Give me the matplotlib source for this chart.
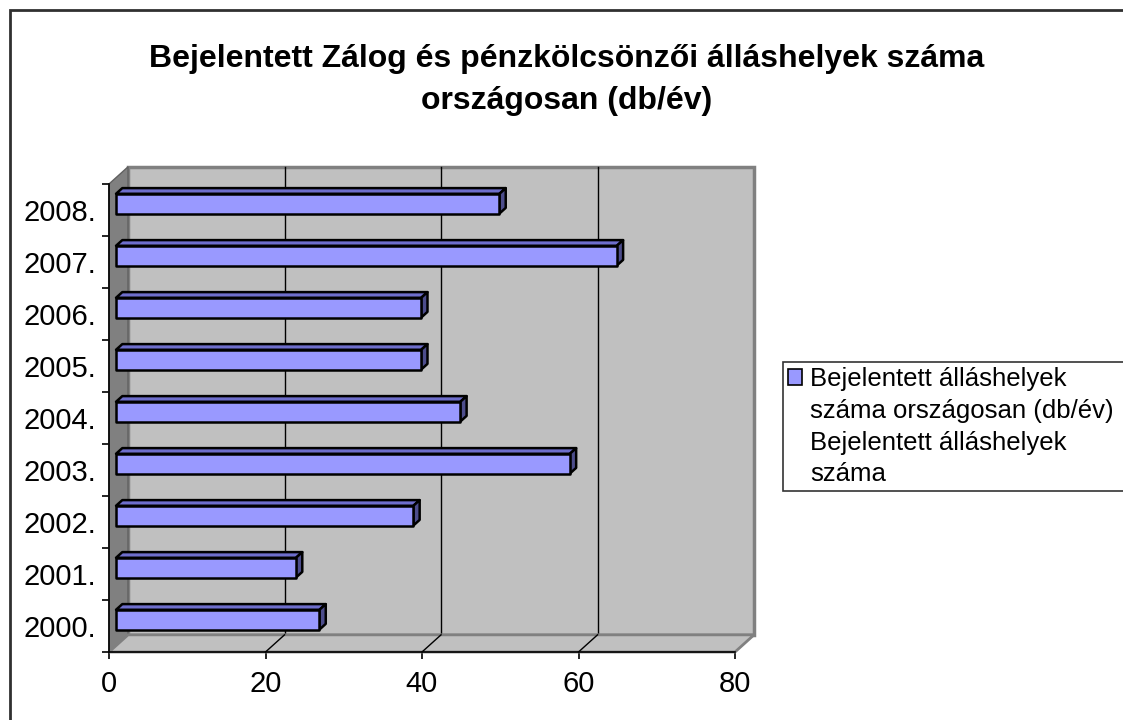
import matplotlib.pyplot as plt
from matplotlib.patches import Polygon, Rectangle, Patch

plt.rcParams['font.family'] = ['Liberation Sans', 'DejaVu Sans']

years = ['2000.', '2001.', '2002.', '2003.', '2004.', '2005.', '2006.', '2007.', '2008.']
values = [26, 23, 38, 58, 44, 39, 39, 64, 49]
x_ticks = [0, 20, 40, 60, 80]
title = 'Bejelentett Zálog és pénzkölcsönzői álláshelyek száma\nországosan (db/év)'
legend_lines = ['Bejelentett álláshelyek', 'száma országosan (db/év)',
                'Bejelentett álláshelyek', 'száma']

# 3d look: depth offset of the back wall, in data units
XMAX = 80
DX, DY = 2.43, 0.33
D0, D1 = 0.37, 0.70      # bar front/back depth fraction
H = 0.19                 # half bar thickness

face = '#9999FF'
top_c = '#6E6ECC'
side_c = '#4D4D8C'
wall = '#C0C0C0'
dark = '#808080'

fig = plt.figure(figsize=(11.23, 7.2), dpi=100)
W, Hh = 1123, 720
ax = fig.add_axes([109 / W, 1 - 652 / Hh, (735 - 109) / W, (652 - 184) / Hh])
n = len(years)
ax.set_xlim(0, XMAX)
ax.set_ylim(-0.5, n - 0.5)
ax.patch.set_visible(False)
for s in ['top', 'right']:
    ax.spines[s].set_visible(False)
for s in ['left', 'bottom']:
    ax.spines[s].set_color('black')
    ax.spines[s].set_linewidth(1.2)
    ax.spines[s].set_zorder(6)

y0, y1 = -0.5, n - 0.5
# back wall
ax.add_patch(Rectangle((DX, y0 + DY), XMAX, n, facecolor=wall, edgecolor=dark,
                       lw=2.5, zorder=1, clip_on=False))
# left wall
ax.add_patch(Polygon([(0, y0), (DX, y0 + DY), (DX, y1 + DY), (0, y1)], closed=True,
                     facecolor=dark, edgecolor='#606060', lw=1, zorder=2, clip_on=False))
# floor
ax.add_patch(Polygon([(0, y0), (DX, y0 + DY), (XMAX + DX, y0 + DY), (XMAX, y0)], closed=True,
                     facecolor=wall, edgecolor=dark, lw=2, zorder=2, clip_on=False))
# gridlines on back wall and floor
for t in x_ticks[1:-1]:
    ax.plot([t + DX, t + DX], [y0 + DY, y1 + DY], color='black', lw=1, zorder=1.5, clip_on=False)
    ax.plot([t, t + DX], [y0, y0 + DY], color='black', lw=1, zorder=3, clip_on=False)

# bars
for i, v in enumerate(values):
    fx, fy = D0 * DX, D0 * DY
    bx, by = D1 * DX, D1 * DY
    ax.add_patch(Polygon([(fx, i + H + fy), (v + fx, i + H + fy), (v + bx, i + H + by), (bx, i + H + by)],
                         closed=True, facecolor=top_c, edgecolor='black', lw=1.8, zorder=4,
                         joinstyle='round', clip_on=False))
    ax.add_patch(Polygon([(v + fx, i - H + fy), (v + fx, i + H + fy), (v + bx, i + H + by), (v + bx, i - H + by)],
                         closed=True, facecolor=side_c, edgecolor='black', lw=1.8, zorder=4,
                         joinstyle='round', clip_on=False))
    ax.add_patch(Rectangle((fx, i - H + fy), v, 2 * H, facecolor=face, edgecolor='black',
                           lw=1.8, zorder=5, joinstyle='round', clip_on=False))

ax.set_xticks(x_ticks)
ax.set_xticklabels([str(t) for t in x_ticks], fontsize=21)
ax.set_yticks(range(n))
ax.set_yticklabels(years, fontsize=21)
ax.set_yticks([k - 0.5 for k in range(n + 1)], minor=True)
ax.tick_params(axis='y', which='major', length=0, pad=9)
ax.tick_params(axis='y', which='minor', length=5, width=1.2, direction='out')
ax.tick_params(axis='x', which='major', length=5, width=1.2, direction='out', pad=8)

fig.text(0.505, 1 - 80 / Hh, title, ha='center', va='center', fontsize=23,
         fontweight='bold', linespacing=1.5)

handle = Patch(facecolor=face, edgecolor='black', lw=1.2)
blank = Patch(facecolor='none', edgecolor='none')
# legend box runs past the right edge of the picture, as in the original
leg = fig.legend([handle, blank, blank, blank], legend_lines, loc='upper left',
                 bbox_to_anchor=(783 / W, 1 - 492 / Hh, (1135 - 783) / W, 130 / Hh),
                 mode='expand', fontsize=18.5, frameon=True,
                 fancybox=False, borderaxespad=0, handlelength=0.55, handleheight=0.55,
                 handletextpad=0.3, borderpad=0.2, labelspacing=0.3)
leg.get_frame().set_edgecolor('black')
leg.get_frame().set_linewidth(1.2)

# outer chart border
fig.patches.append(Rectangle((9.5 / W, -0.1), 1.2, 1 - 10 / Hh + 0.1, transform=fig.transFigure,
                             facecolor='none', edgecolor='#303030', lw=2))

fig.savefig('out.png', dpi=100)
